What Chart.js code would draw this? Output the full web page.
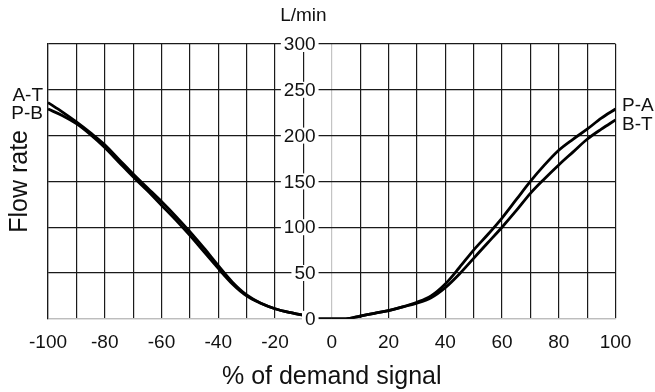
<!DOCTYPE html>
<html>
<head>
<meta charset="utf-8">
<script src="https://cdn.jsdelivr.net/npm/chart.js@4/dist/chart.umd.min.js"></script>
<style>
  html, body { margin: 0; padding: 0; background: #fff; }
  #wrap { width: 655px; height: 392px; }
</style>
</head>
<body>
<div id="wrap"><canvas id="canvas"></canvas></div>
<script>
// % of demand signal, every 5 %
var demand = [-100, -95, -90, -85, -80, -75, -70, -65, -60, -55, -50, -45, -40, -35, -30, -25, -20, -15, -10, -5,
  0, 5, 10, 15, 20, 25, 30, 35, 40, 45, 50, 55, 60, 65, 70, 75, 80, 85, 90, 95, 100];

// flow in L/min (negative side)
var flowAT = [236, 226, 215, 203, 190, 174, 158, 143, 128, 112, 95, 77, 58, 40, 26, 17, 11, 7, 4, 0, 0];
var flowPB = [229, 222, 213, 201, 187, 171, 155, 140, 124, 108, 91, 73, 55, 38, 25, 17, 11, 7, 4, 0, 0];
// flow in L/min (positive side)
var flowPA = [0, 0, 3, 6, 9, 13, 18, 25, 38, 56, 75, 92, 110, 130, 150, 168, 184, 196, 207, 219, 229];
var flowBT = [0, 0, 3, 6, 9, 13, 17, 23, 34, 49, 66, 83, 100, 118, 137, 153, 168, 182, 196, 207, 217];

var yTicks = [0, 50, 100, 150, 200, 250, 300];

var FONT = "'Liberation Sans', Arial, sans-serif";

// left curves cover demand[0..20], right curves demand[20..40]
function leftSide(vals) {
  return vals.map(function (v, i) { return { x: demand[i], y: v }; });
}
function rightSide(vals) {
  return vals.map(function (v, i) { return { x: demand[20 + i], y: v }; });
}

function line(label, pts) {
  return {
    label: label,
    data: pts,
    borderColor: '#000',
    borderWidth: 2.8,
    pointRadius: 0,
    fill: false,
    cubicInterpolationMode: 'monotone'
  };
}

// y tick labels sit inside the plot, on a white patch, next to the -10 line
var innerLabels = {
  id: 'innerLabels',
  afterDatasetsDraw: function (chart) {
    var ctx = chart.ctx;
    var xs = chart.scales.x, ys = chart.scales.y;
    var right = xs.getPixelForValue(-5) - 2;
    ctx.save();
    ctx.font = '19px ' + FONT;
    ctx.textAlign = 'right';
    ctx.textBaseline = 'middle';
    yTicks.forEach(function (v) {
      var y = ys.getPixelForValue(v);
      var w = ctx.measureText(String(v)).width;
      ctx.fillStyle = '#fff';
      ctx.fillRect(right - w - 3, y - 8, w + 6, 16);
      ctx.fillStyle = '#111';
      ctx.fillText(String(v), right, y + 1);
    });

    ctx.textAlign = 'center';
    ctx.fillText('L/min', xs.getPixelForValue(-10), 16);

    ctx.textAlign = 'right';
    ctx.fillText('A-T', 43, 96);
    ctx.fillText('P-B', 43, 114);
    ctx.textAlign = 'left';
    ctx.fillText('P-A', 622, 106);
    ctx.fillText('B-T', 622, 125);
    ctx.restore();
  }
};

var ctx = document.getElementById('canvas').getContext('2d');
var myChart = new Chart(ctx, {
  type: 'line',
  data: {
    datasets: [
      line('A-T', leftSide(flowAT)),
      line('P-B', leftSide(flowPB)),
      line('P-A', rightSide(flowPA)),
      line('B-T', rightSide(flowBT))
    ]
  },
  options: {
    responsive: true,
    maintainAspectRatio: false,
    animation: false,
    layout: { padding: { left: 6.5, right: 39.5, top: 44, bottom: 0 } },
    plugins: { legend: { display: false }, tooltip: { enabled: false } },
    scales: {
      x: {
        type: 'linear',
        min: -100,
        max: 100,
        grid: {
          drawTicks: false,
          lineWidth: 1.2,
          color: function (c) { return c.tick && c.tick.value === 0 ? '#c4c4c4' : '#1a1a1a'; }
        },
        border: { color: '#bdbdbd', width: 1.2 },
        ticks: {
          stepSize: 10,
          padding: 16.5,
          color: '#111',
          font: { family: FONT, size: 19, lineHeight: 0.8 },
          maxRotation: 0,
          autoSkip: false,
          callback: function (v) { return v % 20 === 0 ? v : ''; }
        },
        title: {
          display: true,
          text: '% of demand signal',
          color: '#111',
          font: { family: FONT, size: 25, lineHeight: 0.8 },
          padding: { top: 0, bottom: 5 }
        }
      },
      y: {
        min: 0,
        max: 300,
        grid: {
          drawTicks: false,
          lineWidth: 1.2,
          color: function (c) { return c.tick && c.tick.value === 0 ? '#c4c4c4' : '#1a1a1a'; }
        },
        border: { color: '#1a1a1a', width: 1.2 },
        ticks: { stepSize: 50, display: false },
        title: {
          display: true,
          text: 'Flow rate',
          color: '#111',
          font: { family: FONT, size: 25, lineHeight: 1.1 },
          padding: { top: 0, bottom: 14 }
        }
      }
    }
  },
  plugins: [innerLabels]
});
</script>
</body>
</html>
